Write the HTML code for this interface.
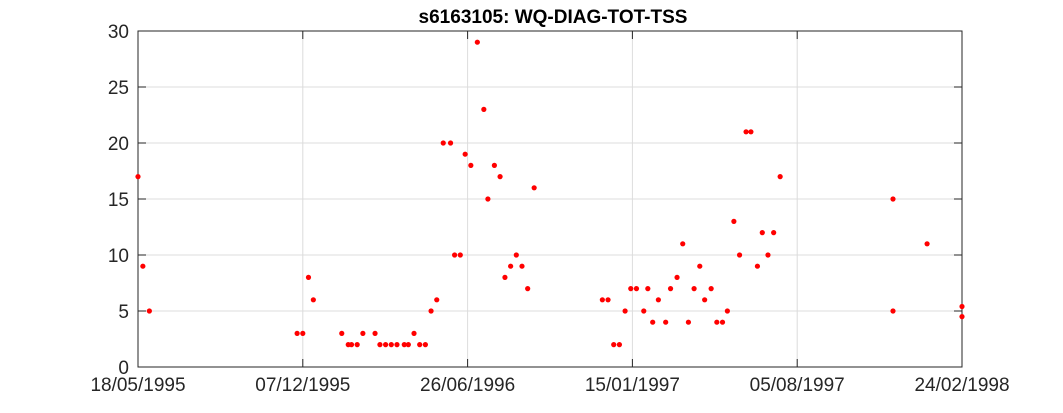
<!DOCTYPE html>
<html><head><meta charset="utf-8"><style>
body{margin:0;background:#fff;}
svg{display:block;font-family:"Liberation Sans",Arial,sans-serif;}
</style></head><body>
<svg id="c" width="1063" height="413"></svg>
<script>
const dayOffsets=[0,6,14,196,203,210,216,251,259,263,270,277,292,298,305,312,319,328,333,340,347,354,361,368,376,385,390,397,403,410,418,426,431,439,446,452,459,466,473,480,488,
572,579,586,593,600,607,614,623,628,634,641,650,656,664,671,678,685,692,698,706,713,720,726,734,741,749,755,763,769,776,783,791,930,930,972,1015,1015];
const values=[17,9,5,3,3,8,6,3,2,2,2,3,3,2,2,2,2,2,2,3,2,2,5,6,20,20,10,10,19,18,29,23,15,18,17,8,9,10,9,7,16,
6,6,2,2,5,7,7,5,7,4,6,4,7,8,11,4,7,9,6,7,4,4,5,13,10,21,21,9,12,10,12,17,15,5,11,5.4,4.5];
const xTickLabels=["18/05/1995","07/12/1995","26/06/1996","15/01/1997","05/08/1997","24/02/1998"];
const xTickDays=[0,203,406,609,812,1015];
const yTicks=[0,5,10,15,20,25,30];
const NS="http://www.w3.org/2000/svg";
const svg=document.getElementById('c');
const L=138,R=962,T=31,B=367;
const xs=d=>L+(d-0)/(1015)*(R-L);
const ys=v=>B-v/30*(B-T);
function el(t,a,p){const e=document.createElementNS(NS,t);for(const k in a)e.setAttribute(k,a[k]);(p||svg).appendChild(e);return e;}
const grid=el('g',{});


xTickDays.forEach(d=>el('line',{x1:xs(d),x2:xs(d),y1:T,y2:B,stroke:'#dcdcdc','stroke-width':1},grid));
yTicks.forEach(v=>el('line',{x1:L,x2:R,y1:ys(v),y2:ys(v),stroke:'#dcdcdc','stroke-width':1},grid));
const frame=el('rect',{x:L,y:T,width:R-L,height:B-T,fill:'none',stroke:'#262626','stroke-width':1});


xTickDays.forEach((d,i)=>{
  el('line',{x1:xs(d),x2:xs(d),y1:B,y2:B-8,stroke:'#262626'});
  el('line',{x1:xs(d),x2:xs(d),y1:T,y2:T+8,stroke:'#262626'});
  const t=el('text',{x:xs(d),y:B+24,'text-anchor':'middle','font-size':19,fill:'#262626'});
  t.textContent=xTickLabels[i];
  
  
});
yTicks.forEach(v=>{
  el('line',{x1:L,x2:L+8,y1:ys(v),y2:ys(v),stroke:'#262626'});
  el('line',{x1:R,x2:R-8,y1:ys(v),y2:ys(v),stroke:'#262626'});
  const t=el('text',{x:L-9,y:ys(v)+7,'text-anchor':'end','font-size':19,fill:'#262626'});
  t.textContent=v;
  
  
});
const pts=el('g',{});


dayOffsets.forEach((d,i)=>{
  const c=el('circle',{cx:xs(d),cy:ys(values[i]),r:2.6,fill:'#ff0000'},pts);
  
  
});
const title=el('text',{x:(L+R)/2+3,y:23,'text-anchor':'middle','font-size':19,'font-weight':'bold',fill:'#000'});
title.textContent='s6163105: WQ-DIAG-TOT-TSS';


</script>
</body></html>
